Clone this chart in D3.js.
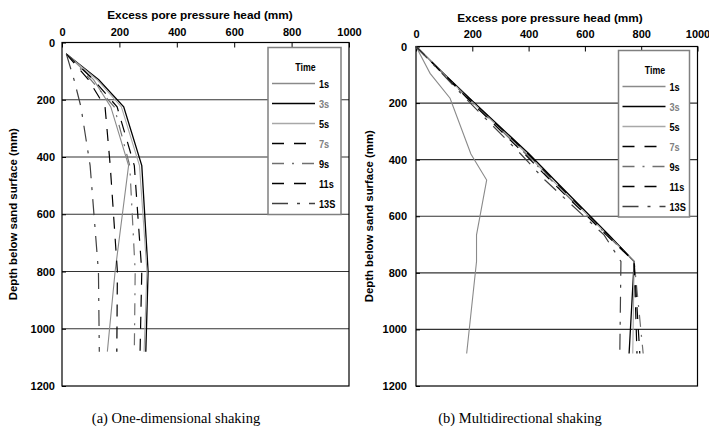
<!DOCTYPE html>
<html>
<head>
<meta charset="utf-8">
<script src="https://cdn.jsdelivr.net/npm/d3@7"></script>
<style>
body { margin: 0; background: #fff; }
text { font-family: "Liberation Sans", Arial, sans-serif; font-weight: bold; font-size: 11px; }
.title { font-size: 11.8px; }
.ytitle { font-size: 11.4px; }
.leg text { font-size: 11.5px; }
.caption { font-family: "Liberation Serif", "Times New Roman", serif; font-weight: normal; font-size: 14.5px; }
</style>
</head>
<body>
<div id="chart"></div>
<script>
// series names as printed in the legend
const times = ['1s', '3s', '5s', '7s', '9s', '11s', '13S']
const xTicks = [0, 200, 400, 600, 800, 1000]
const yTicks = [0, 200, 400, 600, 800, 1000, 1200]

// (a) one-dimensional shaking: depth (mm) of each reading, head per time (mm)
const depthA = [40, 130, 225, 430, 800, 1080]
const headA1 = [15, 110, 170, 232, 185, 158]
const headA3 = [15, 128, 215, 278, 300, 292]
const headA5 = [15, 122, 207, 270, 296, 286]
const headA7 = [15, 110, 192, 252, 278, 272]
const headA9 = [15, 100, 182, 236, 255, 252]
const headA11 = [15, 92, 150, 168, 193, 191]
const headA13 = [15, 42, 66, 98, 127, 130]

// (b) multidirectional shaking
const depthB = [0, 95, 183, 380, 472, 666, 760, 1085]
const headB1 = [0, 50, 121, 195, 251, 215, 215, 180]
const headB3 = [0, 98, 190, 402, 492, 685, 775, 757]
const headB5 = [0, 96, 186, 394, 484, 680, 775, 770]
const headB7 = [0, 97, 188, 398, 488, 683, 775, 785]
const headB9 = [0, 95, 184, 390, 480, 678, 775, 807]
const headB11 = [0, 94, 182, 386, 476, 676, 775, 795]
const headB13 = [0, 92, 176, 372, 458, 668, 728, 724]

const seriesStyle = [
  { stroke: '#8a8a8a', dash: null, w: 1.1, label: '#000' },
  { stroke: '#000', dash: null, w: 1.3, label: '#808080' },
  { stroke: '#a8a8a8', dash: null, w: 1.1, label: '#000' },
  { stroke: '#000', dash: '12,10', w: 1.2, label: '#808080' },
  { stroke: '#707070', dash: '12,8,2,8', w: 1.2, label: '#000' },
  { stroke: '#000', dash: '12,10', w: 1.2, label: '#000' },
  { stroke: '#404040', dash: '16,9,3,9', w: 1.2, label: '#000' }
]

const svg = d3.select('#chart').append('svg')
  .attr('width', 709)
  .attr('height', 432)

const zipUp = (depth, head) => depth.map((d, i) => ({ d: d, v: head[i] }))

function drawPanel(p) {
  let x = d3.scaleLinear().domain([0, 1000]).range([p.left, p.right])
  let y = d3.scaleLinear().domain([0, 1200]).range([p.top, p.bottom])
  let g = svg.append('g')

  // horizontal grid
  g.append('g').selectAll('line')
    .data(yTicks.filter(t => t > 0 && t < 1200))
    .enter().append('line')
    .attr('x1', p.left).attr('x2', p.right)
    .attr('y1', d => y(d)).attr('y2', d => y(d))
    .attr('stroke', '#333').attr('stroke-width', 1.2)

  let xAxis = g.append('g')
    .attr('transform', `translate(0,${p.top})`)
    .call(d3.axisTop(x).tickValues(xTicks).tickFormat(d3.format('d')).tickSize(-5).tickSizeOuter(0).tickPadding(p.xPad))
  xAxis.select('.domain').remove()
  xAxis.selectAll('text').attr('fill', '#000').style('font-size', '11px')

  let yAxis = g.append('g')
    .attr('transform', `translate(${p.left},0)`)
    .call(d3.axisLeft(y).tickValues(yTicks).tickFormat(d3.format('d')).tickSize(-4).tickSizeOuter(0).tickPadding(p.yPad))
  yAxis.select('.domain').remove()
  yAxis.selectAll('text').attr('fill', '#000').style('font-size', '11px')

  g.append('rect')
    .attr('x', p.left).attr('y', p.top)
    .attr('width', p.right - p.left).attr('height', p.bottom - p.top)
    .attr('fill', 'none').attr('stroke', '#000').attr('stroke-width', 1.2)

  let line = d3.line().x(d => x(d.v)).y(d => y(d.d))

  g.append('g').selectAll('path')
    .data(p.series)
    .enter().append('path')
    .attr('d', d => line(zipUp(p.depth, d)))
    .attr('fill', 'none')
    .attr('stroke', (d, i) => seriesStyle[i].stroke)
    .attr('stroke-width', (d, i) => seriesStyle[i].w)
    .attr('stroke-dasharray', (d, i) => seriesStyle[i].dash)

  // titles
  g.append('text')
    .attr('class', 'title')
    .attr('x', p.titleX).attr('y', p.titleY)
    .attr('text-anchor', 'middle')
    .text('Excess pore pressure head (mm)')

  g.append('text')
    .attr('class', 'ytitle')
    .attr('transform', `translate(${p.yLabX},${(p.top + p.bottom) / 2}) rotate(-90)`)
    .attr('text-anchor', 'middle')
    .text('Depth below sand surface (mm)')

  // legend
  let L = p.legend
  let leg = g.append('g').attr('class', 'leg')
  leg.append('rect')
    .attr('x', L.x).attr('y', L.y).attr('width', L.w).attr('height', L.h)
    .attr('fill', '#fff').attr('stroke', '#808080').attr('stroke-width', 1.5)
  leg.append('text')
    .attr('transform', `translate(${L.x + L.w / 2 + 1},${L.y + 23}) scale(0.8,1)`)
    .attr('text-anchor', 'middle')
    .style('font-size', '11px')
    .text('Time')

  let rows = leg.selectAll('g.row')
    .data(times)
    .enter().append('g')
    .attr('class', 'row')
    .attr('transform', (d, i) => `translate(0,${L.y + 36 + i * 20})`)

  rows.append('line')
    .attr('x1', L.x + 4).attr('x2', L.x + 47)
    .attr('stroke', (d, i) => seriesStyle[i].stroke)
    .attr('stroke-width', (d, i) => seriesStyle[i].w + 0.2)
    .attr('stroke-dasharray', (d, i) => seriesStyle[i].dash)

  rows.append('text')
    .attr('transform', `translate(${L.x + 51},4.5) scale(0.8,1)`)
    .attr('fill', (d, i) => seriesStyle[i].label)
    .text(d => d)

  svg.append('text')
    .attr('class', 'caption')
    .attr('x', p.capX).attr('y', 423)
    .attr('text-anchor', 'middle')
    .text(p.caption)
}

drawPanel({
  left: 62, right: 349, top: 42.5, bottom: 386,
  depth: depthA,
  series: [headA1, headA3, headA5, headA7, headA9, headA11, headA13],
  xPad: 7, yPad: 7,
  titleX: 200, titleY: 19, yLabX: 17,
  legend: { x: 268, y: 47.5, w: 73, h: 167 },
  caption: '(a) One-dimensional shaking', capX: 176
})

drawPanel({
  left: 416, right: 697.5, top: 46.5, bottom: 386,
  depth: depthB,
  series: [headB1, headB3, headB5, headB7, headB9, headB11, headB13],
  xPad: 8.5, yPad: 9,
  titleX: 550, titleY: 22, yLabX: 373,
  legend: { x: 618.5, y: 50.5, w: 71, h: 166.5 },
  caption: '(b) Multidirectional shaking', capX: 520
})
</script>
</body>
</html>
